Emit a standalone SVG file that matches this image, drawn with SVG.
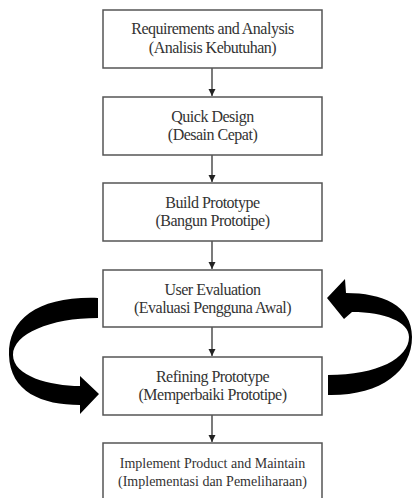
<svg xmlns="http://www.w3.org/2000/svg" width="413" height="498" viewBox="0 0 413 498">
<defs>
<style>
.box{fill:#fff;stroke:#555;stroke-width:1.5}
.t{font-family:"Liberation Serif","Times New Roman",serif;font-size:16px;fill:#333;text-anchor:middle;letter-spacing:-0.5px}
.ln{stroke:#333;stroke-width:1.3;fill:none}
.big{fill:#000}
</style>
<marker id="ah" markerWidth="8" markerHeight="8" refX="7" refY="4" orient="auto" markerUnits="userSpaceOnUse">
<path d="M0,0.5 L7,4 L0,7.5 Z" fill="#222"/>
</marker>
</defs>
<rect width="413" height="498" fill="#fff"/>
<g id="connectors">
<line class="ln" x1="212" y1="68" x2="212" y2="96" marker-end="url(#ah)"/>
<line class="ln" x1="212" y1="155" x2="212" y2="182" marker-end="url(#ah)"/>
<line class="ln" x1="212" y1="241" x2="212" y2="269" marker-end="url(#ah)"/>
<line class="ln" x1="212" y1="327" x2="212" y2="356" marker-end="url(#ah)"/>
<line class="ln" x1="212" y1="415" x2="212" y2="442" marker-end="url(#ah)"/>
<path class="big" d="M98,298 C40,296 8,318 9,355 C10,392 42,405 80,405 L80,414 L99,394 L80,376 L80,386 C50,386 13,376 13,355 C13,334 50,318 98,318 Z"/>
<path class="big" d="M328,395 C380,396 412,372 412,337 C412,305 382,293 346,293 L345,279 L327,298 L344,319 L352,312 C385,312 409,322 409,337 C409,358 378,375 328,375 Z"/>
</g>
<g id="n1"><rect class="box" x="103" y="10" width="219" height="58"/>
<text class="t" x="212.5" y="34">Requirements and Analysis</text>
<text class="t" x="212.5" y="53">(Analisis Kebutuhan)</text></g>
<g id="n2"><rect class="box" x="103" y="97" width="219" height="58"/>
<text class="t" x="212.5" y="122">Quick Design</text>
<text class="t" x="212.5" y="140">(Desain Cepat)</text></g>
<g id="n3"><rect class="box" x="103" y="183" width="219" height="58"/>
<text class="t" x="212.5" y="208">Build Prototype</text>
<text class="t" x="212.5" y="226">(Bangun Prototipe)</text></g>
<g id="n4"><rect class="box" x="103" y="270" width="219" height="57"/>
<text class="t" x="212.5" y="295">User Evaluation</text>
<text class="t" x="212.5" y="313">(Evaluasi Pengguna Awal)</text></g>
<g id="n5"><rect class="box" x="103" y="357" width="219" height="58"/>
<text class="t" x="212.5" y="382">Refining Prototype</text>
<text class="t" x="212.5" y="400">(Memperbaiki Prototipe)</text></g>
<g id="n6"><rect class="box" x="103" y="443" width="219" height="70"/>
<text class="t" x="212.5" y="468" style="font-size:14px;letter-spacing:0">Implement Product and Maintain</text>
<text class="t" x="212.5" y="486" style="font-size:14px;letter-spacing:0">(Implementasi dan Pemeliharaan)</text></g>
</svg>
